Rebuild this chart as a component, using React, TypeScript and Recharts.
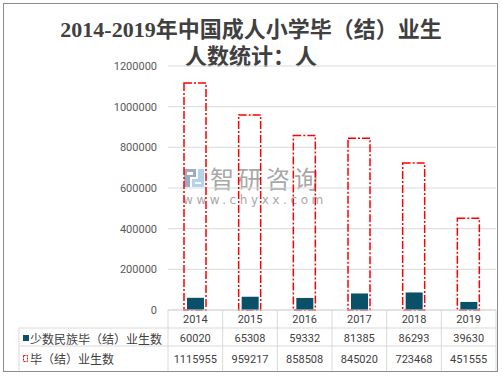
import React from 'react';
import { BarChart, Bar, XAxis, YAxis, CartesianGrid } from 'recharts';

// chart values
const YEARS = ['2014', '2015', '2016', '2017', '2018', '2019'];
const MINORITY = [60020, 65308, 59332, 81385, 86293, 39630];
const GRADUATES = [1115955, 959217, 858508, 845020, 723468, 451555];
const Y_TICKS = [0, 200000, 400000, 600000, 800000, 1000000, 1200000];
const SERIES_NAMES = ['少数民族毕（结）业生数', '毕（结）业生数'];

const W = 502;
const H = 376;
const MARGIN = { top: 66, right: 6, left: 0, bottom: 5 };
const Y_AXIS_W = 168;
const X_AXIS_H = 61;
const HEADER_LEFT = 19;
const BAND = (W - MARGIN.left - MARGIN.right - Y_AXIS_W) / YEARS.length;

const DARK = '#0b5069';
const RED = '#ff0000';
const LINE = '#d9d9d9';
const TEXT = '#404040';
const NUM_FONT = 'Roboto, "Noto Sans CJK SC", sans-serif';
const CJK_FONT = '"Noto Sans CJK SC", sans-serif';

const data = YEARS.map((year, i) => ({
  year,
  minority: MINORITY[i],
  total: GRADUATES[i],
}));

// x-axis tick drawn as one column of the data table under the plot
function TableTick(props: any) {
  const { x, y, index } = props;
  const row = data[index];
  const left = x - BAND / 2;
  const right = x + BAND / 2;
  const r1 = y + 18;
  const r2 = y + 36;
  const bottom = y + X_AXIS_H;
  const lineStart = index === 0 ? HEADER_LEFT : left;
  const txt = { textAnchor: 'middle' as const, fill: TEXT, fontSize: 11, fontFamily: NUM_FONT };

  return (
    <g>
      <line x1={left} y1={y} x2={left} y2={bottom} stroke={LINE} />
      {index === YEARS.length - 1 && <line x1={right} y1={y} x2={right} y2={bottom} stroke={LINE} />}
      <line x1={lineStart} y1={r1} x2={right} y2={r1} stroke={LINE} />
      <line x1={lineStart} y1={r2} x2={right} y2={r2} stroke={LINE} />
      {index === 0 && (
        <g>
          <line x1={HEADER_LEFT} y1={r1} x2={HEADER_LEFT} y2={bottom} stroke={LINE} />
          <rect x={23} y={335} width={6} height={6} fill={DARK} />
          <text x={30} y={y + 28} fill={TEXT} fontSize={12} fontFamily={CJK_FONT} dominantBaseline="central">
            {SERIES_NAMES[0]}
          </text>
          <rect x={23.5} y={355.5} width={4} height={6} fill="none" stroke={RED} strokeDasharray="2 1" />
          <text x={30} y={y + 48} fill={TEXT} fontSize={12} fontFamily={CJK_FONT} dominantBaseline="central">
            {SERIES_NAMES[1]}
          </text>
        </g>
      )}
      <text x={x} y={y + 9.5} dominantBaseline="central" {...txt}>{row.year}</text>
      <text x={x} y={y + 28.5} dominantBaseline="central" {...txt}>{row.minority}</text>
      <text x={x} y={y + 49.5} dominantBaseline="central" {...txt}>{row.total}</text>
    </g>
  );
}

function Watermark() {
  return (
    <div style={{ position: 'absolute', left: 183, top: 165, opacity: 0.75, pointerEvents: 'none' }}>
      <div style={{ display: 'flex', alignItems: 'center', height: 25 }}>
        <svg width={24} height={24}>
          <path d="M1 3 H13 V11 H7 V21 H1 Z M4 6 V9 H10 V6 Z" fill="#7e8fb0" />
          <path d="M9 13 H15 V3 H21 V21 H9 Z M12 16 V18 H18 V16 Z" fill="#9cc3e3" />
        </svg>
        <span style={{ fontFamily: CJK_FONT, fontSize: 24, color: '#8a8a8a', letterSpacing: 4, marginLeft: 3, lineHeight: '24px' }}>
          智研咨询
        </span>
      </div>
      <div style={{ marginTop: 3, fontFamily: '"DejaVu Sans", sans-serif', fontSize: 12, color: '#8a8a8a', letterSpacing: 3.6, lineHeight: '14px' }}>
        www.chyxx.com
      </div>
    </div>
  );
}

export default function App() {
  return (
    <div style={{ position: 'absolute', left: 0, top: 0, width: W, height: H, background: '#fff' }}>
      <div
        style={{
          position: 'absolute',
          left: 3,
          top: 3,
          width: 493,
          height: 367,
          border: '1.5px solid #8c8c8c',
        }}
      />
      <div
        style={{
          position: 'absolute',
          left: 0,
          top: 16,
          width: W,
          textAlign: 'center',
          fontFamily: '"Liberation Serif", "Noto Sans CJK SC", serif',
          fontWeight: 'bold',
          fontSize: 22,
          lineHeight: '27px',
          color: TEXT,
        }}
      >
        2014-2019年中国成人小学毕（结）业生
        <br />
        人数统计：人
      </div>
      <Watermark />
      <div style={{ position: 'absolute', left: 0, top: 0 }}>
        <BarChart width={W} height={H} data={data} margin={MARGIN}>
          <CartesianGrid vertical={false} stroke={LINE} xAxisId="a" />
          <XAxis
            xAxisId="a"
            dataKey="year"
            height={X_AXIS_H}
            interval={0}
            tickLine={false}
            tickSize={0}
            tickMargin={0}
            axisLine={{ stroke: LINE }}
            tick={<TableTick />}
          />
          <XAxis xAxisId="b" dataKey="year" hide />
          <YAxis
            width={Y_AXIS_W}
            domain={[0, 1200000]}
            ticks={Y_TICKS}
            axisLine={false}
            tickLine={false}
            tickMargin={5}
            tick={{ fill: '#595959', fontSize: 11, fontFamily: NUM_FONT }}
          />
          <Bar
            xAxisId="b"
            dataKey="total"
            barSize={22}
            fill="none"
            stroke={RED}
            strokeWidth={1.5}
            strokeDasharray="8 2 2 2"
            isAnimationActive={false}
          />
          <Bar xAxisId="a" dataKey="minority" barSize={17} fill={DARK} isAnimationActive={false} />
        </BarChart>
      </div>
    </div>
  );
}
